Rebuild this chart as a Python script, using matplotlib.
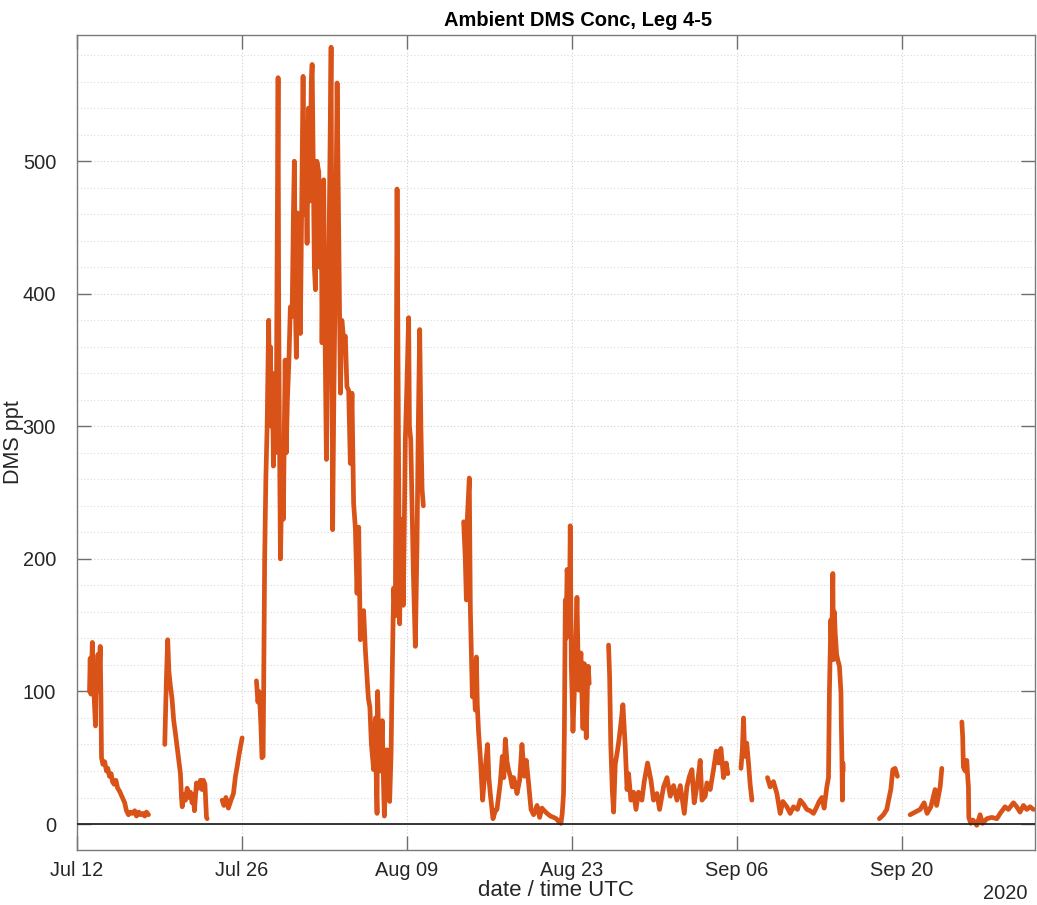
import numpy as np
import matplotlib
matplotlib.use("Agg")
import matplotlib.pyplot as plt
import matplotlib.dates as mdates
from matplotlib.ticker import MultipleLocator

plt.rcParams['font.family'] = ['Liberation Sans', 'DejaVu Sans']

# ---- data: days since 2020-07-12 00:00 UTC, DMS (ppt); NaN separates data gaps
seg1_days = [1.06, 1.12, 1.18, 1.30, 1.38, 1.46, 1.57, 1.63, 1.70, 1.78, 1.86, 1.97, 2.03, 2.08, 2.20,
             2.35, 2.50, 2.62, 2.75, 2.90, 3.01, 3.15, 3.30, 3.45, 3.60, 3.75, 3.90, 4.05, 4.20, 4.37,
             4.55, 4.71, 4.90, 5.05, 5.25, 5.40, 5.60, 5.75, 5.90, 6.07]
seg1_ppt = [100, 125, 98, 137, 112, 95, 74, 118, 100, 128, 105, 134, 95, 50, 45,
            47, 40, 42, 36, 38, 32, 30, 33, 27, 25, 22, 19, 16, 10, 7,
            9, 8, 10, 6, 9, 7, 8, 6, 9, 7]

seg2_days = [7.45, 7.59, 7.70, 7.80, 7.93, 8.06, 8.21, 8.36, 8.50, 8.64, 8.78, 8.87, 8.93, 9.08, 9.21,
             9.35, 9.50, 9.63, 9.77, 9.88, 9.97, 10.14, 10.31, 10.48, 10.61, 10.73, 10.86, 10.99, 11.05]
seg2_ppt = [60, 110, 139, 115, 104, 95, 78, 68, 58, 48, 38, 20, 13, 22, 18,
            27, 20, 24, 16, 22, 10, 31, 27, 33, 26, 33, 30, 5, 4]

seg3_days = [12.32, 12.47, 12.64, 12.85, 13.07, 13.28, 13.45, 13.59, 13.73, 13.87, 14.02]
seg3_ppt = [18, 14, 20, 12, 18, 23, 36, 43, 51, 58, 65]

seg4_days = [15.23, 15.36, 15.44, 15.53, 15.61, 15.70, 15.80, 15.93, 16.03, 16.14, 16.27, 16.33, 16.42,
             16.50, 16.59, 16.67, 16.76, 16.84, 16.93, 17.07, 17.12, 17.18, 17.27, 17.39, 17.52, 17.60,
             17.67, 17.76, 17.86, 17.99, 18.11, 18.26, 18.37, 18.45, 18.54, 18.62, 18.71, 18.79, 18.88,
             18.96, 19.09, 19.19, 19.30, 19.43, 19.53, 19.64, 19.76, 19.89, 19.96, 20.07, 20.15, 20.24,
             20.36, 20.52, 20.62, 20.74, 20.80, 20.94, 21.04, 21.17, 21.30, 21.42, 21.57, 21.64, 21.70,
             21.80, 21.93, 22.08, 22.19, 22.36, 22.48, 22.64, 22.78, 22.91, 23.06, 23.20, 23.34, 23.48,
             23.63, 23.77, 23.91, 24.05, 24.18, 24.33, 24.48, 24.62, 24.73, 24.86, 24.99, 25.18, 25.33,
             25.41, 25.47, 25.52, 25.62, 25.75, 25.91, 26.02, 26.09, 26.22, 26.32, 26.43, 26.54, 26.66,
             26.74, 26.88, 27.02, 27.17, 27.28, 27.39, 27.49, 27.59, 27.70, 27.87, 28.00, 28.15, 28.22,
             28.33, 28.42, 28.55, 28.72, 28.86, 28.97, 29.09, 29.19, 29.29, 29.40]
seg4_ppt = [108, 92, 100, 90, 75, 50, 51, 200, 260, 300, 380, 330, 360,
            300, 340, 270, 310, 280, 330, 563, 388, 300, 200, 260, 230, 300,
            350, 280, 320, 350, 390, 383, 460, 500, 390, 352, 461, 380, 440,
            370, 480, 564, 460, 500, 438, 540, 470, 560, 573, 480, 420, 403,
            500, 492, 420, 460, 363, 486, 380, 275, 360, 460, 586, 400, 222,
            320, 420, 559, 470, 325, 380, 365, 368, 330, 327, 272, 325, 242,
            223, 174, 224, 139, 150, 161, 131, 111, 95, 88, 60, 41, 80,
            30, 8, 100, 60, 40, 78, 30, 6, 40, 56, 25, 17, 53,
            104, 178, 157, 479, 300, 151, 230, 199, 165, 290, 330, 382, 300,
            290, 250, 190, 134, 210, 300, 373, 300, 253, 240]

seg5_days = [32.82, 32.96, 33.05, 33.13, 33.30, 33.39, 33.56, 33.68, 33.81, 33.90, 33.98, 34.09, 34.24,
             34.43, 34.66, 34.85, 34.96, 35.08, 35.31, 35.51, 35.65, 35.93, 36.10, 36.23, 36.36, 36.50,
             36.65, 36.78, 36.95, 37.06, 37.21, 37.35, 37.57, 37.77, 37.97, 38.14, 38.33, 38.54, 38.76,
             38.90, 39.05, 39.27, 39.47, 39.67, 39.90, 40.18, 40.46, 40.68, 40.88, 41.08, 41.19, 41.30,
             41.37, 41.45, 41.52, 41.60, 41.71, 41.79, 41.87, 41.96, 42.10, 42.24, 42.44, 42.58, 42.68,
             42.78, 42.87, 42.95, 43.06, 43.15, 43.23, 43.32, 43.40, 43.48]
seg5_ppt = [228, 200, 169, 230, 261, 162, 96, 110, 86, 126, 90, 69, 50,
            18, 43, 60, 35, 23, 4, 10, 11, 31, 51, 35, 64, 47,
            40, 36, 28, 35, 30, 23, 33, 60, 36, 48, 31, 11, 7,
            10, 14, 5, 12, 10, 8, 6, 5, 4, 2, 0.5, 8, 23,
            68, 169, 140, 192, 180, 150, 225, 120, 70, 106, 171, 101, 120,
            129, 95, 72, 121, 90, 65, 100, 119, 106]

seg6_days = [45.12, 45.21, 45.31, 45.44, 45.55, 45.69, 45.82, 45.97, 46.16, 46.34, 46.54, 46.69, 46.82,
             47.02, 47.24, 47.45, 47.66, 47.95, 48.15, 48.43, 48.72, 48.94, 49.23, 49.45, 49.79, 50.08,
             50.36, 50.64, 50.93, 51.21, 51.55, 51.77, 51.99, 52.20, 52.39, 52.67, 52.90, 53.05, 53.33,
             53.47, 53.75, 54.03, 54.26, 54.46, 54.66, 54.88, 55.11, 55.25]
seg6_ppt = [135, 112, 60, 25, 9, 45, 52, 61, 75, 90, 58, 26, 38,
            18, 24, 11, 24, 18, 32, 46, 33, 18, 23, 11, 28, 35,
            21, 29, 18, 29, 8, 28, 36, 41, 16, 31, 48, 18, 21,
            31, 26, 41, 55, 46, 57, 35, 46, 38]

seg7_days = [56.36, 56.47, 56.58, 56.65, 56.72, 56.85, 57.00, 57.14, 57.29]
seg7_ppt = [42, 55, 80, 60, 51, 61, 46, 30, 18]

seg8_days = [58.61, 58.84, 59.12, 59.41, 59.69, 59.92, 60.26, 60.54, 60.82, 61.16, 61.39, 61.67, 61.95,
             62.23, 62.52, 62.80, 63.00, 63.23, 63.42, 63.65, 63.79, 63.87, 63.99, 64.06, 64.16, 64.21,
             64.29, 64.36, 64.48, 64.57, 64.72, 64.85, 64.88, 64.93, 64.97, 65.01, 65.03]
seg8_ppt = [35, 28, 32, 23, 8, 17, 13, 8, 13, 11, 18, 15, 11,
            10, 8, 13, 17, 20, 12, 28, 35, 100, 154, 130, 189, 124,
            160, 144, 128, 124, 119, 99, 75, 50, 18, 46, 40]

seg9_days = [68.11, 68.45, 68.74, 68.89, 69.08, 69.25, 69.44, 69.64]
seg9_ppt = [4, 7, 11, 18, 26, 41, 42, 36]

seg10_days = [70.72, 71.14, 71.57, 71.91, 72.16, 72.48, 72.70, 72.84, 72.97, 73.10, 73.27, 73.41]
seg10_ppt = [7, 9, 11, 16, 8, 13, 21, 26, 14, 20, 28, 42]

seg11_days = [75.11, 75.18, 75.24, 75.39, 75.53, 75.62, 75.67, 75.70, 75.87, 76.06, 76.38, 76.66,
              76.87, 77.23, 77.65, 78.08, 78.36, 78.78, 79.06, 79.49, 79.77, 80.05, 80.34, 80.62,
              80.90, 81.18]
seg11_ppt = [77, 66, 43, 40, 48, 34, 28, 5, 0.5, 3, -1, 7,
             0.5, 4, 5, 4, 8, 13, 11, 16, 13, 9, 14, 11,
             13, 11]

segments = [(seg1_days, seg1_ppt), (seg2_days, seg2_ppt), (seg3_days, seg3_ppt), (seg4_days, seg4_ppt),
            (seg5_days, seg5_ppt), (seg6_days, seg6_ppt), (seg7_days, seg7_ppt), (seg8_days, seg8_ppt),
            (seg9_days, seg9_ppt), (seg10_days, seg10_ppt), (seg11_days, seg11_ppt)]

start = np.datetime64('2020-07-12T00:00')
tick_dates = ['2020-07-12', '2020-07-26', '2020-08-09', '2020-08-23', '2020-09-06', '2020-09-20']

days_all, ppt_all = [], []
for d, v in segments:
    days_all += list(d) + [np.nan]
    ppt_all += list(v) + [np.nan]
days_all = np.array(days_all)
ppt_all = np.array(ppt_all)
t_num = mdates.date2num(start) + days_all

W, H = 1037, 905
fig = plt.figure(figsize=(W / 100, H / 100), dpi=100)
ax = fig.add_axes([77 / W, 1 - 850 / H, (1035 - 77) / W, (850 - 35) / H])

ax.plot(t_num, ppt_all, color='#D95319', lw=3.4, solid_joinstyle='round', solid_capstyle='round', zorder=3)
ax.axhline(0, color='#262626', lw=1.3, zorder=4)

ax.set_xlim(mdates.date2num(start), mdates.date2num(start) + 81.32)
ax.set_ylim(-19.6, 595.2)

ax.set_xticks([mdates.date2num(np.datetime64(d)) for d in tick_dates])
ax.xaxis.set_major_formatter(mdates.DateFormatter('%b %d'))
ax.yaxis.set_major_locator(MultipleLocator(100))
ax.yaxis.set_minor_locator(MultipleLocator(20))

ax.grid(True, which='major', axis='both', color='#cfcfcf', linestyle=(0, (1, 2)), lw=0.8, zorder=0)
ax.grid(True, which='minor', axis='y', color='#dcdcdc', linestyle=(0, (1, 2)), lw=0.8, zorder=0)

ax.tick_params(which='major', direction='in', length=10, width=1.0, color='#6e6e6e',
               top=True, right=True, labelsize=14.4, labelcolor='#262626')
ax.tick_params(axis='x', pad=8)
ax.tick_params(axis='y', pad=15)
ax.tick_params(which='minor', length=0)
for s in ax.spines.values():
    s.set_color('#7a7a7a')
    s.set_linewidth(1.0)

ax.set_ylabel('DMS ppt', fontsize=15.5, color='#262626', va='center')
ax.yaxis.set_label_coords((14 - 77) / (1035 - 77), 0.5)
ax.set_xlabel('date / time UTC', fontsize=16, color='#262626', labelpad=0)
fig.text(1028 / W, 1 - 893 / H, '2020', ha='right', va='center', fontsize=14.4, color='#262626')
fig.text(578 / W, 1 - 20 / H, 'Ambient DMS Conc, Leg 4-5', ha='center', va='center',
         fontsize=14.5, fontweight='bold', color='black')

fig.savefig('out.png', dpi=100)
